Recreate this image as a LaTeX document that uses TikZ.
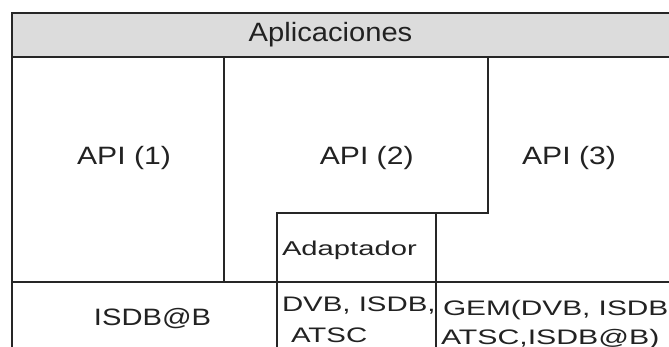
\documentclass[tikz,border=0pt]{standalone}
\usepackage{fontspec}
\setmainfont{Liberation Sans}
\usepackage{graphicx}
\definecolor{linec}{HTML}{262626}
\definecolor{headc}{HTML}{DCDCDC}
\definecolor{textc}{HTML}{222222}
\tikzset{
  frameline/.style={draw=linec, line width=2pt},
  lbl/.style={inner sep=0pt, outer sep=0pt, text=textc},
}
\newcommand{\sx}[3]{\scalebox{#1}[1]{\fontsize{#2}{#2}\selectfont #3}}
\begin{document}
\begin{tikzpicture}[x=1pt,y=-1pt]
\useasboundingbox (0,0) rectangle (669,347);
\fill[white] (0,0) rectangle (669,347);
% header band
\fill[headc] (12,13) rectangle (669,57);
% frame lines
\draw[frameline] (669,13) -- (12,13) -- (12,347);
\draw[frameline] (12,57) -- (669,57);
\draw[frameline] (12,282) -- (669,282);
\draw[frameline] (224,57) -- (224,282);
\draw[frameline] (488,57) -- (488,213) -- (277,213) -- (277,347);
\draw[frameline] (436,213) -- (436,347);
% labels
\node[lbl, anchor=base] (apl) at (330.5,41.7) {\sx{1.10}{26.5}{Aplicaciones}};
\node[lbl, anchor=base] (api1) at (124,165) {\sx{1.20}{25.1}{API (1)}};
\node[lbl, anchor=base] (api2) at (366.7,165) {\sx{1.20}{25.1}{API (2)}};
\node[lbl, anchor=base] (api3) at (569,165) {\sx{1.20}{25.1}{API (3)}};
\node[lbl, anchor=base west] (adap) at (282,255.7) {\sx{1.46}{20}{Adaptador}};
\node[lbl, anchor=base] (isdbb) at (152.5,325) {\sx{1.23}{23.7}{ISDB@B}};
\node[lbl, anchor=base west] (dvb1) at (282,312) {\sx{1.40}{21}{DVB, ISDB,}};
\node[lbl, anchor=base west] (dvb2) at (291,342) {\sx{1.40}{21}{ATSC}};
\node[lbl, anchor=base west] (gem1) at (443,316) {\sx{1.42}{21}{GEM(DVB, ISDB}};
\node[lbl, anchor=base west] (gem2) at (441,344) {\sx{1.44}{21}{ATSC,ISDB@B)}};
\end{tikzpicture}
\end{document}
